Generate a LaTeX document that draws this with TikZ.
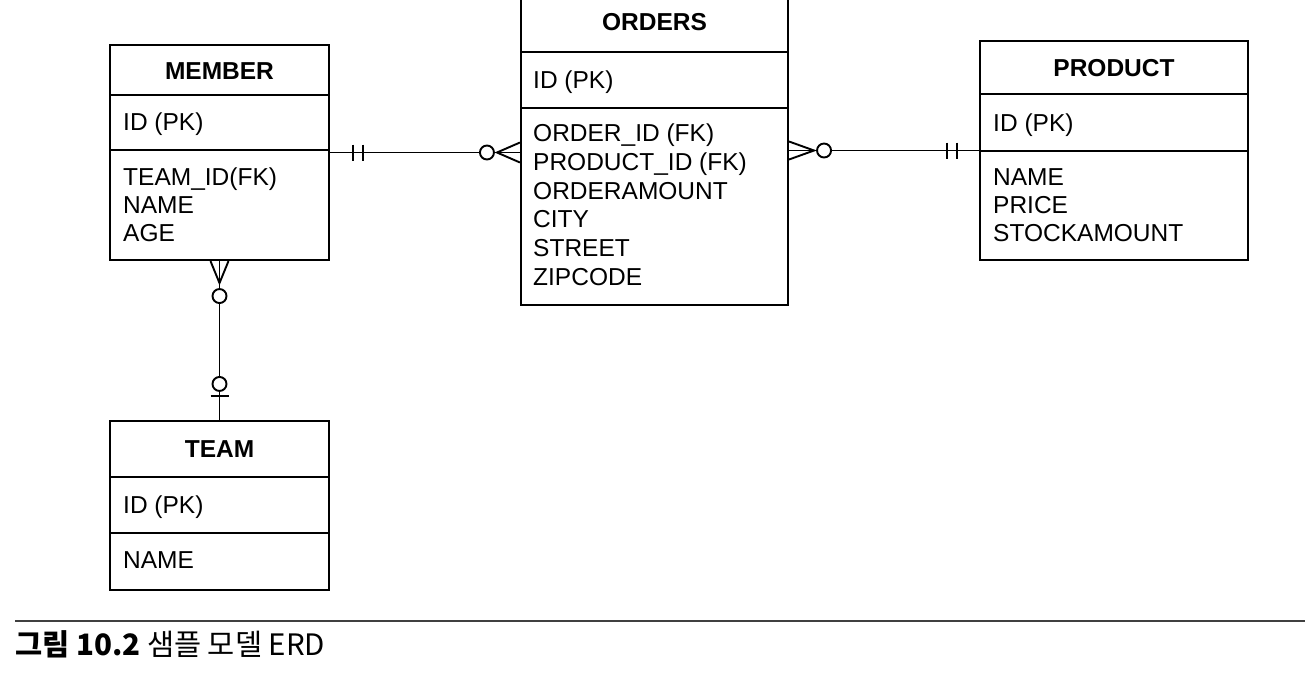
\documentclass[tikz,border=0pt]{standalone}
\usepackage{fontspec}
\setmainfont{Liberation Sans}
\newfontfamily\krfont{Noto Sans CJK KR}
\usetikzlibrary{calc}
\begin{document}
\begin{tikzpicture}[x=1pt,y=-1pt,
  entity/.style={draw, rectangle, inner sep=0pt, line width=2.1pt},
  divider/.style={line width=2.1pt},
  head/.style={anchor=base, inner sep=0pt, font=\fontsize{24.5}{28}\selectfont\bfseries},
  attr/.style={anchor=base west, inner sep=0pt, font=\fontsize{24.5}{28}\selectfont},
  rel/.style={line width=1.9pt},
  ring/.style={draw, fill=white, line width=1.9pt}]
\useasboundingbox (0,0) rectangle (1305,686);

% ---------- entities ----------
\node[entity, minimum width=219pt, minimum height=215pt] (member) at (219.5,152.5) {};
\node[entity, minimum width=267pt, minimum height=310pt] (orders) at (654.5,150) {};
\node[entity, minimum width=268pt, minimum height=219pt] (product) at (1114,150.5) {};
\node[entity, minimum width=219pt, minimum height=169pt] (team) at (219.5,505.5) {};

% dividers
\draw[divider] (110,95) -- (329,95);
\draw[divider] (110,150) -- (329,150);
\draw[divider] (521,52) -- (788,52);
\draw[divider] (521,108) -- (788,108);
\draw[divider] (980,94) -- (1248,94);
\draw[divider] (980,151) -- (1248,151);
\draw[divider] (110,477) -- (329,477);
\draw[divider] (110,533) -- (329,533);

% MEMBER texts
\node[head] (mh) at (219.5,79) {MEMBER};
\node[attr] (m1) at (123,130) {ID (PK)};
\node[attr] (m2) at (123,185.5) {TEAM\_ID(FK)};
\node[attr] (m3) at (123,213.5) {NAME};
\node[attr] (m4) at (123,241.5) {AGE};

% ORDERS texts
\node[head] (oh) at (654.5,30) {ORDERS};
\node[attr] (o1) at (533,88) {ID (PK)};
\node[attr] (o2) at (533,141.5) {ORDER\_ID (FK)};
\node[attr] (o3) at (533,170.3) {PRODUCT\_ID (FK)};
\node[attr] (o4) at (533,199.1) {ORDERAMOUNT};
\node[attr] (o5) at (533,227.9) {CITY};
\node[attr] (o6) at (533,256.7) {STREET};
\node[attr] (o7) at (533,285.5) {ZIPCODE};

% PRODUCT texts
\node[head] (ph) at (1114,76) {PRODUCT};
\node[attr] (p1) at (993,131) {ID (PK)};
\node[attr] (p2) at (993,185.5) {NAME};
\node[attr] (p3) at (993,213.5) {PRICE};
\node[attr] (p4) at (993,241.5) {STOCKAMOUNT};

% TEAM texts
\node[head] (th) at (219.5,457) {TEAM};
\node[attr] (t1) at (123,513) {ID (PK)};
\node[attr] (t2) at (123,568) {NAME};

% ---------- relationships ----------
% MEMBER -- ORDERS
\coordinate (mo) at (member.east -| orders.west);
\draw[rel] (member.east) -- (mo);
\draw[rel] ($(member.east)+(23,-8)$) -- ($(member.east)+(23,8)$);
\draw[rel] ($(member.east)+(33,-8)$) -- ($(member.east)+(33,8)$);
\draw[rel] ($(mo)+(0,-10)$) -- ($(mo)+(-23,0)$) -- ($(mo)+(0,10)$);
\draw[ring] ($(mo)+(-33,0)$) circle[radius=7pt];

% ORDERS -- PRODUCT
\coordinate (po) at (product.west -| orders.east);
\draw[rel] (po) -- (product.west);
\draw[rel] ($(po)+(0,-9)$) -- ($(po)+(25,0)$) -- ($(po)+(0,9)$);
\draw[ring] ($(po)+(35,0)$) circle[radius=7pt];
\draw[rel] ($(product.west)+(-22,-8)$) -- ($(product.west)+(-22,8)$);
\draw[rel] ($(product.west)+(-32,-8)$) -- ($(product.west)+(-32,8)$);

% MEMBER -- TEAM
\draw[rel] (member.south) -- (team.north);
\draw[rel] ($(member.south)+(-9,0)$) -- ($(member.south)+(0,22)$) -- ($(member.south)+(9,0)$);
\draw[ring] ($(member.south)+(0,35)$) circle[radius=7pt];
\draw[ring] ($(team.north)+(0,-36)$) circle[radius=7pt];
\draw[rel] ($(team.north)+(-9,-24)$) -- ($(team.north)+(9,-24)$);

% ---------- caption ----------
\draw[line width=1.4pt, black!75] (15,621) -- (1305,621);
\node[anchor=base west, inner sep=0pt, font=\krfont\fontsize{29.5}{34}\selectfont] (cap) at (15,655) {\textbf{그림 10.2} 샘플 모델 ERD};
\end{tikzpicture}
\end{document}
